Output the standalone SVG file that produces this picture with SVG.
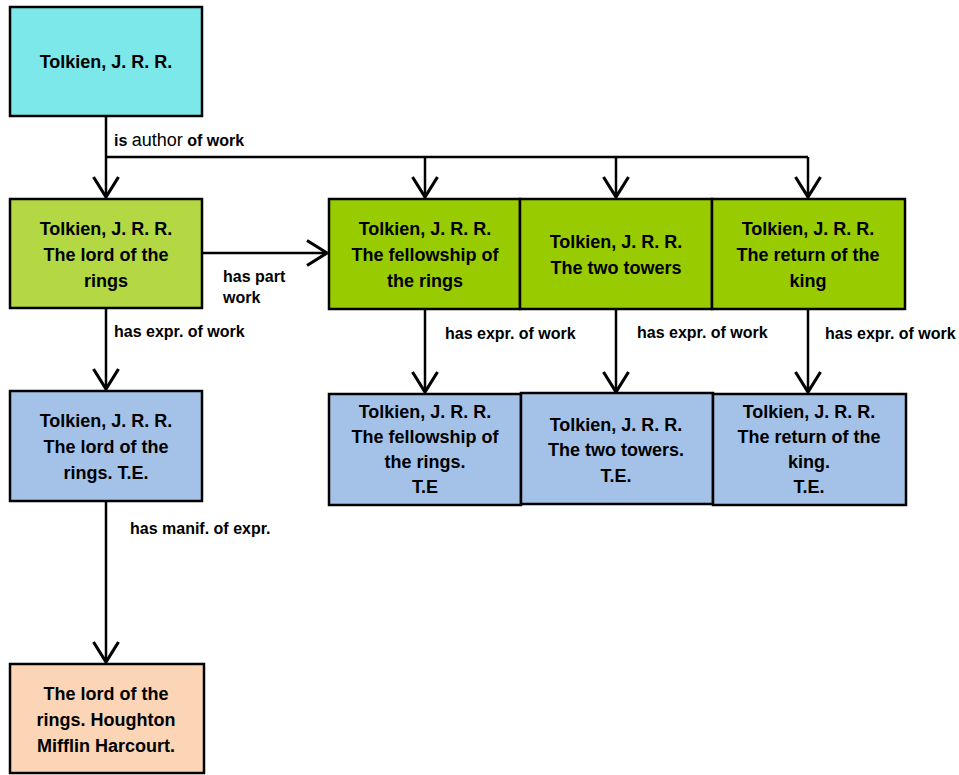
<svg xmlns="http://www.w3.org/2000/svg" width="959" height="775" viewBox="0 0 959 775">
<style>
.box{stroke:#000;stroke-width:2.5}
.t{font-family:"Liberation Sans",Arial,sans-serif;font-weight:bold;font-size:18px;text-anchor:middle;fill:#000}
.l{font-family:"Liberation Sans",Arial,sans-serif;font-weight:bold;font-size:16px;fill:#000}
.c{fill:none;stroke:#000;stroke-width:2.5}
</style>
<defs>
<marker id="arr" markerUnits="userSpaceOnUse" markerWidth="30" markerHeight="30" viewBox="-16 -12 20 24" refX="0" refY="0" orient="auto" overflow="visible">
<path d="M-16,-10 L0,0 L-16,10" fill="none" stroke="#000" stroke-width="2.5"/>
</marker>
</defs>
<rect width="959" height="775" fill="#fff"/>
<g id="connectors">
<path class="c" d="M106,117 V197" marker-end="url(#arr)"/>
<path class="c" d="M106,157 H808"/>
<path class="c" d="M425,157 V197" marker-end="url(#arr)"/>
<path class="c" d="M616,157 V197" marker-end="url(#arr)"/>
<path class="c" d="M808,157 V197" marker-end="url(#arr)"/>
<path class="c" d="M202,253 H327" marker-end="url(#arr)"/>
<path class="c" d="M106,308 V389" marker-end="url(#arr)"/>
<path class="c" d="M425,309 V392" marker-end="url(#arr)"/>
<path class="c" d="M616,309 V392" marker-end="url(#arr)"/>
<path class="c" d="M808,309 V392" marker-end="url(#arr)"/>
<path class="c" d="M106,501 V662" marker-end="url(#arr)"/>
<text class="l" x="114" y="146">is <tspan font-weight="normal" font-size="18">author</tspan> of work</text>
<text class="l" x="223" y="282">has part</text>
<text class="l" x="223" y="303">work</text>
<text class="l" x="114" y="337">has expr. of work</text>
<text class="l" x="445" y="339">has expr. of work</text>
<text class="l" x="637" y="338">has expr. of work</text>
<text class="l" x="825" y="339">has expr. of work</text>
<text class="l" x="130" y="534">has manif. of expr.</text>
</g>
<g id="author">
<rect class="box" x="10" y="7" width="192" height="109" fill="#7de8ea"/>
<text class="t" x="106" y="68">Tolkien, J. R. R.</text>
</g>
<g id="work-lotr">
<rect class="box" x="10" y="199" width="192" height="109" fill="#b3d843"/>
<text class="t" x="106" y="235">Tolkien, J. R. R.</text>
<text class="t" x="106" y="261">The lord of the</text>
<text class="t" x="106" y="287">rings</text>
</g>
<g id="work-fellowship">
<rect class="box" x="329" y="199" width="191" height="110" fill="#99cc00"/>
<text class="t" x="425" y="235">Tolkien, J. R. R.</text>
<text class="t" x="425" y="261">The fellowship of</text>
<text class="t" x="425" y="287">the rings</text>
</g>
<g id="work-towers">
<rect class="box" x="520" y="199" width="192" height="110" fill="#99cc00"/>
<text class="t" x="616" y="248">Tolkien, J. R. R.</text>
<text class="t" x="616" y="274">The two towers</text>
</g>
<g id="work-return">
<rect class="box" x="712" y="199" width="193" height="110" fill="#99cc00"/>
<text class="t" x="808" y="235">Tolkien, J. R. R.</text>
<text class="t" x="808" y="261">The return of the</text>
<text class="t" x="808" y="287">king</text>
</g>
<g id="expr-lotr">
<rect class="box" x="10" y="391" width="192" height="110" fill="#a4c2e8"/>
<text class="t" x="106" y="427">Tolkien, J. R. R.</text>
<text class="t" x="106" y="453">The lord of the</text>
<text class="t" x="106" y="479">rings. T.E.</text>
</g>
<g id="expr-fellowship">
<rect class="box" x="329" y="394" width="192" height="111" fill="#a4c2e8"/>
<text class="t" x="425" y="418">Tolkien, J. R. R.</text>
<text class="t" x="425" y="443">The fellowship of</text>
<text class="t" x="425" y="468">the rings.</text>
<text class="t" x="425" y="493">T.E</text>
</g>
<g id="expr-towers">
<rect class="box" x="521" y="393" width="192" height="111" fill="#a4c2e8"/>
<text class="t" x="616" y="431">Tolkien, J. R. R.</text>
<text class="t" x="616" y="456">The two towers.</text>
<text class="t" x="616" y="482">T.E.</text>
</g>
<g id="expr-return">
<rect class="box" x="713" y="394" width="193" height="111" fill="#a4c2e8"/>
<text class="t" x="809" y="418">Tolkien, J. R. R.</text>
<text class="t" x="809" y="443">The return of the</text>
<text class="t" x="809" y="468">king.</text>
<text class="t" x="809" y="493">T.E.</text>
</g>
<g id="manifestation">
<rect class="box" x="10" y="664" width="194" height="109" fill="#fbd5b5"/>
<text class="t" x="106" y="700">The lord of the</text>
<text class="t" x="106" y="726">rings. Houghton</text>
<text class="t" x="106" y="752">Mifflin Harcourt.</text>
</g>
</svg>
